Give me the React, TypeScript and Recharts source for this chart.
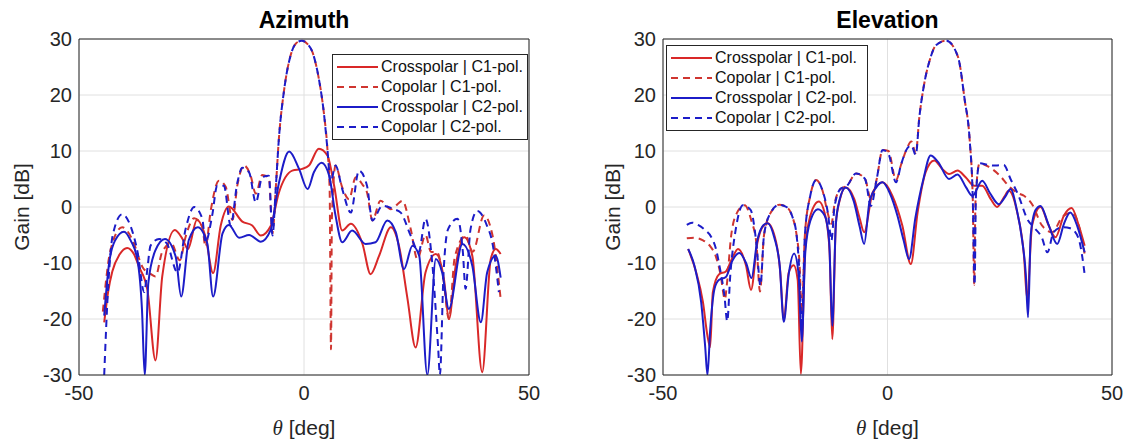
import { LineChart, Line, XAxis, YAxis, CartesianGrid, ReferenceLine } from 'recharts'

// ---- Azimuth cut (theta in deg, gain in dB) ----
const azCrossC1Theta = [-44.4, -43.5, -42.6, -41, -39.3, -37.8, -36.7, -34.8, -33, -31.5, -28.7, -27, -25.8, -23.8, -21.9, -20.2, -18.5, -16.7, -13.7, -11.5, -9.6, -7.4, -5.6, -2.6, -0.4, 1.1, 3.3, 5.2, 6.7, 8.5, 10.4, 13, 14.8, 16.7, 19.3, 21.1, 23, 24.8, 27, 29.3, 31.1, 32.2, 33.7, 35.6, 37.4, 39.6, 41.5, 42.6, 43.7]
const azCrossC1Gain = [-20.6, -15, -11.5, -8.5, -7.3, -8.4, -10.6, -14.8, -27.4, -12.4, -4.1, -5.7, -7.5, -2.3, -5.3, -11.8, -3.3, 0.1, -2.6, -3.3, -5.1, -3.4, 2.5, 6.5, 6.8, 7.4, 10.4, 9.2, 3.8, -4.2, -3, -6.6, -12, -8.7, -3.6, -6.9, -16.4, -25.1, -11.7, -8.4, -12.9, -20, -10.5, -5.4, -8.7, -29.5, -9.3, -7.5, -8.4]

const azCoC1Theta = [-44.7, -43, -40.4, -38.1, -35.9, -34, -33, -31.5, -29.5, -27.6, -26.3, -24.4, -22.6, -21.9, -20.7, -18.9, -17.4, -15.9, -14.8, -13.3, -11.9, -10.7, -9.3, -7.8, -7, -6.3, -5.6, -4.4, -3, -1.8, -0.5, 0.8, 1.9, 3.3, 4.4, 5.2, 5.7, 6.0, 6.2, 7.0, 8.5, 10.0, 11.5, 13.0, 14.0, 15.2, 17.0, 19.3, 21.9, 23.7, 25.2, 27.0, 28.2, 29.6, 31.0, 32.2, 33.5, 35.9, 37.5, 40.0, 41.9, 43.7]
const azCoC1Gain = [-18.7, -7.7, -3.6, -5.9, -10.7, -12, -12.4, -8, -6.5, -9.5, -5.3, -2, -3.5, -7.1, -0.5, 4.7, 3.6, -2.3, 3.9, 7.4, 5.7, 2.4, 5.7, 5.2, -4.7, 3, 12, 21, 27, 29.2, 29.7, 29.1, 27.6, 22.9, 16.9, 10.4, 3, -25.4, -2, 7.4, 3.5, 1.4, 5.3, 4, 2.6, -2.4, 1.1, -0.4, 1.1, -3.9, -9.3, -5, -8, -8.1, -13, -20, -9, -5.1, -8, -1.5, -5.1, -16.4]

const azCrossC2Theta = [-44.4, -43.3, -42, -40, -38.5, -37, -36, -35.4, -34.6, -33, -30.9, -28.5, -27.3, -25.6, -23.6, -21.5, -20.2, -18.1, -16.7, -14.4, -12.2, -9.6, -7.4, -5.6, -3.3, -1.1, 0.8, 2.2, 3.9, 5.6, 7, 8.5, 10.7, 13.7, 15.9, 18.5, 20.4, 22.2, 24.1, 25.6, 27.4, 29.3, 30.7, 32.2, 35.2, 37.4, 39.3, 40.7, 42.6, 43.7]
const azCrossC2Gain = [-19.4, -10, -6, -4.4, -6, -9.5, -18.4, -30, -13.6, -7.7, -5.7, -8.9, -16, -5.9, -3.6, -6.5, -16, -4.7, -3.2, -5.5, -5, -6.2, -4.1, 4.2, 9.9, 6.8, 3.2, 6.2, 7.9, 5.6, -1.5, -6.3, -4.2, -6.6, -6.3, -2.4, -4.5, -11.1, -6.9, -8.7, -30, -9.3, -11.7, -18.2, -6.6, -10.5, -20.6, -11.7, -8.7, -12.6]

const azCoC2Theta = [-44.4, -43.5, -42.5, -40.4, -38.5, -37, -35.5, -34.8, -34.1, -32.2, -30.5, -28.1, -26.3, -24.4, -22.6, -21.9, -20.4, -19.3, -17.8, -16.3, -14.8, -13.7, -12.2, -10.7, -9.3, -7.8, -7, -6.3, -5.6, -4.4, -3, -1.8, -0.5, 0.8, 1.9, 3.3, 4.4, 5.2, 5.9, 7.0, 8.5, 10.4, 12.2, 14.0, 15.2, 17.4, 20.0, 21.5, 23.7, 25.5, 27.0, 28.5, 29.8, 30.2, 31.0, 32.0, 34.1, 35.3, 35.9, 37.0, 38.5, 40.5, 42.0, 43.3]
const azCoC2Gain = [-30, -14, -5, -1.3, -3.5, -8, -15.2, -11, -6.9, -5.7, -6.5, -11.7, -3.9, 0, -2.1, -6.3, -1.5, 3.8, 3.8, -3.3, 4.4, 7, 6.2, 0.8, 5.3, 5.6, -5.1, 3, 12, 21, 27, 29.2, 29.7, 29.1, 27.6, 22.9, 16.9, 10.4, 4.4, 7.4, 3.2, -1, 6.5, 3.8, -2.4, 0.2, -0.4, -1, -5.1, -8, -2.1, -10, -25, -30, -12, -4, -2.1, -8, -14.6, -4, -0.7, -3, -7, -15.2]

// ---- Elevation cut ----
const elCrossC1Theta = [-44.4, -42.6, -41.1, -40.1, -39.5, -38.9, -37.5, -36, -34.5, -33.3, -31.5, -30.4, -29, -27.6, -26.7, -24.8, -23.9, -23.1, -22, -20.9, -20, -19.3, -18.3, -16.7, -15.3, -13.7, -12.9, -12.3, -11.5, -10.7, -9.3, -7.4, -6.2, -5.2, -3.3, -1.1, 1.1, 3.3, 5.2, 6.7, 8.5, 10.4, 12.2, 13.7, 15.6, 17.4, 19.3, 21.1, 23, 24.4, 26, 27, 28.9, 30.4, 31.1, 32.2, 34.1, 35.9, 37.4, 39.3, 41, 42.6, 43.9]
const elCrossC1Gain = [-7.5, -11.7, -17, -23, -25, -15.2, -12, -11.5, -9, -7.5, -10.5, -14.8, -6.5, -3.3, -2.9, -6.3, -11.5, -20.3, -11.7, -10.4, -13, -29.8, -6.9, -0.4, 1, -2.1, -8, -23.6, -3, 1, 3.5, 1.4, -2, -4.5, 2.6, 4.4, 2, -3.3, -10.2, -1, 6.2, 8.3, 6.8, 5.9, 6.5, 5.3, 3.8, 3.8, 1.4, 0, 1.8, 2.9, -1, -8.7, -16.4, -3.3, 0, -3.3, -5.4, -1.5, -0.2, -3.3, -6.9]

const elCoC1Theta = [-44.7, -43, -41.2, -39.5, -38.2, -37.2, -36.2, -35.8, -34.8, -33.5, -31.8, -30.3, -29.2, -28.4, -27.5, -26, -24.1, -22.5, -21.2, -20.3, -19.6, -19.1, -18.4, -17.2, -15.9, -14.5, -13.3, -12.5, -11.8, -10.5, -9, -7, -5, -3.7, -2.4, -1.1, 0.2, 1.9, 3, 4.2, 5.3, 6.3, 7.1, 8.2, 9.4, 10.8, 13.1, 15.7, 17.2, 18.3, 19, 19.3, 19.6, 20.5, 22.5, 24.9, 27.2, 29, 30.4, 32.2, 34.4, 36.7, 38.9, 41.1, 42.5, 43.9]
const elCoC1Gain = [-5.6, -5.5, -5.9, -7, -8.9, -12, -16.5, -14, -5, -1, 0.3, -2.5, -6.5, -15.1, -5, -1, 0.4, 0, -1.7, -4.7, -10, -19, -5, 2, 4.8, 3, -1.1, -3, 0.5, 3.2, 3.8, 6, 5, 1.4, 5, 10.2, 10, 4.8, 7.5, 10.2, 11.7, 9.6, 16.1, 22.1, 26.2, 28.9, 29.7, 26.8, 19.1, 12, 1.2, -13.9, 1, 7.8, 7.2, 5.7, 3.6, 2.5, 2, 0.5, -3.3, -4.5, -1.8, -1, -3, -8.3]

const elCrossC2Theta = [-44.4, -43, -41.5, -40.6, -40.1, -39.5, -38.5, -37.5, -36, -34.5, -33, -31.5, -30.3, -29, -27.6, -26.7, -25.2, -24, -23.1, -22, -20.8, -19.8, -19.1, -18.3, -17.2, -15.5, -14, -13, -12.3, -11.5, -10.7, -9.3, -7.5, -6.2, -5.2, -4, -2.5, -1.1, 0.5, 2.2, 3.6, 4.8, 6.2, 8, 9.6, 11.3, 13.7, 15.6, 17.5, 18.9, 21.1, 22.8, 24.8, 26.2, 27.4, 28.8, 30, 30.8, 31.3, 31.9, 33, 34.1, 35.8, 37.8, 39.3, 40.7, 42.3, 43.9]
const elCrossC2Gain = [-7.5, -10.5, -17, -25, -30, -22, -14.5, -13, -12.5, -9.5, -8.2, -10, -12.7, -6, -3.2, -2.9, -5.5, -10.5, -20.5, -12, -8.3, -12, -24, -8, -2.5, -0.4, -1.5, -6, -21.2, -3, 1.2, 3.5, 1, -3.5, -6.6, 1, 3.5, 4.4, 2.5, -1.5, -6, -9.3, -2, 5, 9.2, 8, 5, 5.8, 3.5, 2, 4.7, 2.5, 0.5, 1.8, 3.2, -0.5, -6, -12, -19.7, -5, -0.5, 0.2, -3, -6.6, -3, -1, -3.5, -8.1]

const elCoC2Theta = [-44.7, -43.5, -42.2, -40.5, -39.3, -38.2, -37.4, -36.3, -35.7, -35, -33.8, -32.2, -30.5, -29.2, -28.3, -27.5, -26, -24.1, -22.5, -21.2, -20.3, -19.6, -19.1, -18.4, -17.2, -15.9, -14.5, -13.2, -12.5, -11.8, -10.5, -9, -7, -5, -3.7, -2.4, -1.1, 0.2, 1.9, 3, 4.2, 5.3, 6.3, 7.1, 8.2, 9.4, 10.8, 13.1, 15.7, 17.2, 18.3, 19, 19.4, 19.7, 20.5, 22.5, 24.1, 25.9, 27.4, 29.2, 31.1, 32.8, 34.4, 35.6, 37, 38.9, 40.7, 42.5, 43.4, 43.9]
const elCoC2Gain = [-3.2, -2.8, -3.2, -4.2, -5.3, -7.5, -10.6, -16, -20.4, -12, -4, 0.3, -0.5, -6.5, -14, -5, -1, 0.4, 0, -1.7, -4.7, -12, -22, -5, 2, 4.8, 3, -1.5, -6, 0, 3.2, 3.8, 6, 5, 0.2, 5, 10.2, 9.5, 4.4, 7.5, 10.2, 11, 9.3, 16.1, 22.1, 26.2, 28.9, 29.7, 26.8, 19.1, 12, 1.2, -13.9, 2, 7.8, 7.5, 7.4, 7.5, 5, 2, -2.1, -3.8, -5.5, -8.1, -4.5, -3.6, -3.8, -5.5, -9, -12]

const xTicks = [-50, 0, 50]
const yTicks = [-30, -20, -10, 0, 10, 20, 30]
const seriesNames = ['Crosspolar | C1-pol.', 'Copolar | C1-pol.', 'Crosspolar | C2-pol.', 'Copolar | C2-pol.']

const RED = '#d92828'
const RED_DASH = '#cf3530'
const BLUE = '#1c1cc8'
const AXIS = '#262626'
const FONT = '"Liberation Sans", Arial, Helvetica, sans-serif'
const DASH = '7 5'
const LW = 2

const styles = [
  { stroke: RED, dash: undefined },
  { stroke: RED_DASH, dash: DASH },
  { stroke: BLUE, dash: undefined },
  { stroke: BLUE, dash: DASH },
]

const zip = (xs: number[], ys: number[]) => xs.map((theta, i) => ({ theta, gain: ys[i] }))

const azSeries = [
  zip(azCrossC1Theta, azCrossC1Gain),
  zip(azCoC1Theta, azCoC1Gain),
  zip(azCrossC2Theta, azCrossC2Gain),
  zip(azCoC2Theta, azCoC2Gain),
]
const elSeries = [
  zip(elCrossC1Theta, elCrossC1Gain),
  zip(elCoC1Theta, elCoC1Gain),
  zip(elCrossC2Theta, elCrossC2Gain),
  zip(elCoC2Theta, elCoC2Gain),
]

const W = 566
const H = 443

interface PanelProps {
  offset: number
  plotLeft: number
  plotWidth: number
  title: string
  series: { theta: number; gain: number }[][]
  legend: { left: number; top: number; width: number }
  ylabelX: number
}

function Panel({ offset, plotLeft, plotWidth, title, series, legend, ylabelX }: PanelProps) {
  const tickStyle = { fontSize: 20, fill: AXIS, fontFamily: FONT }
  const cx = plotLeft + plotWidth / 2
  return (
    <div style={{ position: 'absolute', left: offset, top: 0, width: W, height: H }}>
      <LineChart width={W} height={H} margin={{ top: 39, right: W - plotLeft - plotWidth, bottom: 0, left: 0 }}>
        <CartesianGrid stroke="#e0e0e0" strokeWidth={1} />
        <XAxis
          dataKey="theta"
          type="number"
          domain={[-50, 50]}
          ticks={xTicks}
          allowDataOverflow
          height={68}
          tickSize={0}
          tickMargin={11}
          tickLine={false}
          axisLine={{ stroke: AXIS }}
          tick={tickStyle}
        />
        <YAxis
          type="number"
          domain={[-30, 30]}
          ticks={yTicks}
          allowDataOverflow
          width={plotLeft}
          tickSize={0}
          tickMargin={7}
          tickLine={false}
          axisLine={{ stroke: AXIS }}
          tick={tickStyle}
        />
        {/* box outline on top and right, as in the original axes */}
        <ReferenceLine y={30} stroke={AXIS} strokeWidth={1} ifOverflow="extendDomain" />
        <ReferenceLine x={50} stroke={AXIS} strokeWidth={1} ifOverflow="extendDomain" />
        {series.map((d, i) => (
          <Line
            key={i}
            data={d}
            dataKey="gain"
            name={seriesNames[i]}
            type="monotone"
            dot={false}
            stroke={styles[i].stroke}
            strokeWidth={LW}
            strokeDasharray={styles[i].dash}
            isAnimationActive={false}
          />
        ))}
      </LineChart>

      <div
        style={{
          position: 'absolute', left: plotLeft, width: plotWidth, top: 7, textAlign: 'center',
          fontFamily: FONT, fontWeight: 'bold', fontSize: 23, color: '#000',
        }}
      >
        {title}
      </div>
      <div
        style={{
          position: 'absolute', left: ylabelX, top: 207, transform: 'translate(-50%, -50%) rotate(-90deg)',
          fontFamily: FONT, fontSize: 21, color: AXIS, whiteSpace: 'nowrap',
        }}
      >
        Gain [dB]
      </div>
      <div
        style={{
          position: 'absolute', left: cx, top: 428, transform: 'translate(-50%, -50%)',
          fontFamily: FONT, fontSize: 21, color: AXIS, whiteSpace: 'nowrap',
        }}
      >
        <i style={{ fontFamily: '"Liberation Serif", serif' }}>θ</i> [deg]
      </div>

      <div
        style={{
          position: 'absolute', left: legend.left, top: legend.top, width: legend.width,
          border: `1px solid ${AXIS}`, background: '#fff', padding: '2px 0',
          fontFamily: FONT, fontSize: 16, color: '#111',
        }}
      >
        {seriesNames.map((n, i) => (
          <div key={n} style={{ display: 'flex', alignItems: 'center', height: 20 }}>
            <svg width={46} height={20} style={{ flex: 'none' }}>
              <line x1={4} x2={45} y1={10} y2={10} stroke={styles[i].stroke} strokeWidth={LW} strokeDasharray={styles[i].dash} />
            </svg>
            <span style={{ marginLeft: 2, whiteSpace: 'nowrap' }}>{n}</span>
          </div>
        ))}
      </div>
    </div>
  )
}

export default function App() {
  return (
    <div style={{ position: 'absolute', left: 0, top: 0, width: 1132, height: 443, background: '#fff' }}>
      <Panel
        offset={0}
        plotLeft={79}
        plotWidth={450}
        title="Azimuth"
        series={azSeries}
        legend={{ left: 332, top: 54, width: 194 }}
        ylabelX={22}
      />
      <Panel
        offset={566}
        plotLeft={97}
        plotWidth={449}
        title="Elevation"
        series={elSeries}
        legend={{ left: 100, top: 45, width: 200 }}
        ylabelX={47}
      />
    </div>
  )
}
